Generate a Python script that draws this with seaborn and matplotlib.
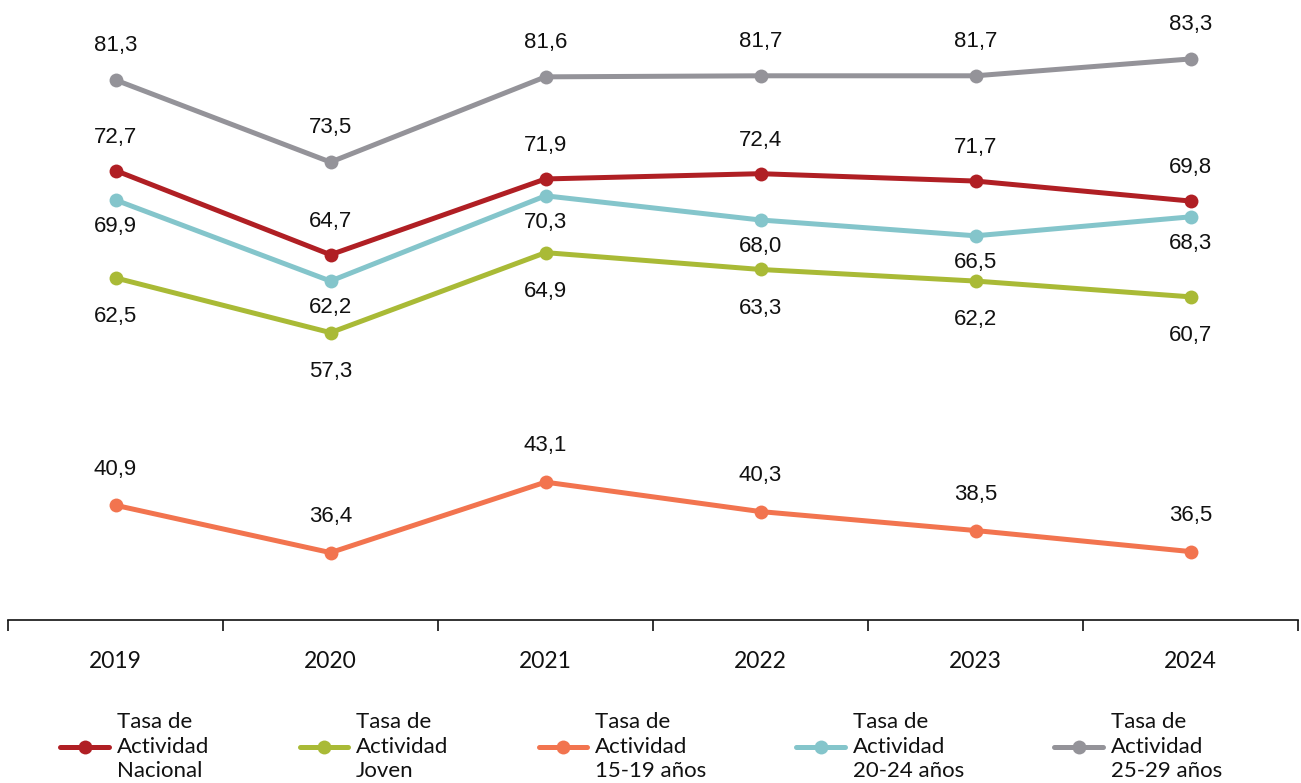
import numpy as np
import pandas as pd
import matplotlib
matplotlib.use("Agg")
import matplotlib.pyplot as plt
import seaborn as sns

years = ["2019", "2020", "2021", "2022", "2023", "2024"]
nacional = [72.7, 64.7, 71.9, 72.4, 71.7, 69.8]
joven = [62.5, 57.3, 64.9, 63.3, 62.2, 60.7]
edad_15_19 = [40.9, 36.4, 43.1, 40.3, 38.5, 36.5]
edad_20_24 = [69.9, 62.2, 70.3, 68.0, 66.5, 68.3]
edad_25_29 = [81.3, 73.5, 81.6, 81.7, 81.7, 83.3]

series_names = [
    "Tasa de\nActividad\nNacional",
    "Tasa de\nActividad\nJoven",
    "Tasa de\nActividad\n15-19 años",
    "Tasa de\nActividad\n20-24 años",
    "Tasa de\nActividad\n25-29 años",
]
series_values = [nacional, joven, edad_15_19, edad_20_24, edad_25_29]
colors = ["#B01F24", "#A9BA36", "#F2744F", "#84C5CB", "#949399"]
# label offset in points (negative = above the point)
label_offsets = [-24, 28, -26, 19, -25]

sns.set_theme(style="white")
plt.rcParams["font.family"] = ["Lato", "DejaVu Sans"]

rows = []
for name, vals in zip(series_names, series_values):
    for i, v in enumerate(vals):
        rows.append({"pos": i, "valor": v, "serie": name})
df = pd.DataFrame(rows)

fig = plt.figure(figsize=(13.01, 7.83), dpi=100)
ax = fig.add_axes([8 / 1301, 163 / 783, 1290 / 1301, 620 / 783])

sns.lineplot(data=df, x="pos", y="valor", hue="serie", hue_order=series_names,
             palette=colors, marker="o", markersize=10, markeredgewidth=0,
             linewidth=3.6, ax=ax, legend=True)

for vals, off in zip(series_values, label_offsets):
    for i, v in enumerate(vals):
        ax.annotate(f"{v:.1f}".replace(".", ","), (i, v), xytext=(0, -off),
                    textcoords="offset points", ha="center", va="center",
                    fontsize=16, family="Liberation Sans", color="#111111")

ax.set_xlim(-0.5, 5.5)
ax.set_ylim(30, 88.9)
ax.set_xticks(np.arange(-0.5, 6.0, 1.0))
ax.set_xticklabels([])
ax.set_xticks(np.arange(6), minor=True)
ax.set_xticklabels(years, minor=True, fontsize=16.5, color="#111111")
ax.tick_params(axis="x", which="major", direction="out", length=8, width=1.2,
               color="#111111", bottom=True)
ax.tick_params(axis="x", which="minor", length=0, pad=22)
ax.set_yticks([])
ax.set_xlabel("")
ax.set_ylabel("")
for s in ["top", "right", "left"]:
    ax.spines[s].set_visible(False)
ax.spines["bottom"].set_color("#111111")
ax.spines["bottom"].set_linewidth(1.2)

handles, labels = ax.get_legend_handles_labels()
ax.legend_.remove()
leg = fig.legend(handles, labels, loc="upper center",
                 bbox_to_anchor=(0.493, 80 / 783), bbox_transform=fig.transFigure,
                 ncol=5, frameon=False, fontsize=16, handlelength=2.2,
                 handletextpad=0.35, columnspacing=4.05, borderaxespad=0)
for t in leg.get_texts():
    t.set_linespacing(1.3)
    t.set_color("#111111")

fig.savefig("out.png", dpi=100)
